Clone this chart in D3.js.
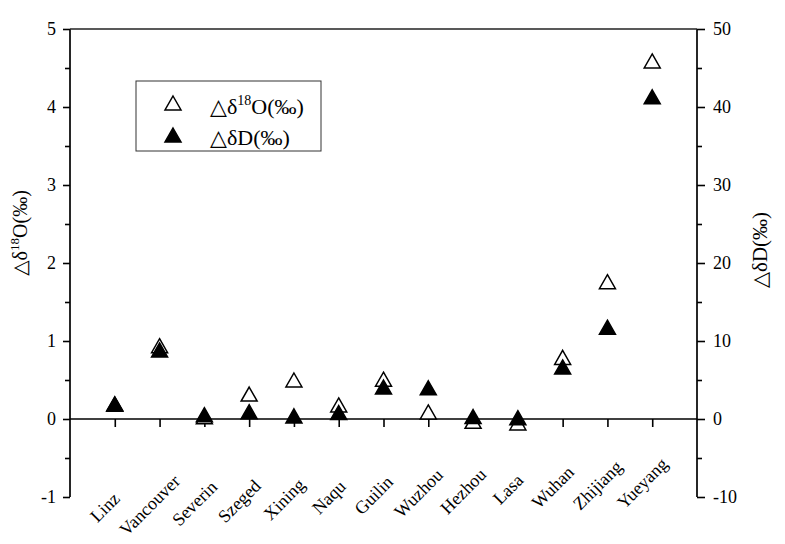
<!DOCTYPE html>
<html>
<head>
<meta charset="utf-8">
<script src="https://cdn.jsdelivr.net/npm/d3@7"></script>
<style>
  html, body { margin: 0; padding: 0; background: #fff; }
  svg { display: block; font-family: "Liberation Serif", "DejaVu Serif", serif; }
</style>
</head>
<body>
<svg id="chart" width="785" height="544"></svg>
<script>
// ---- data ----
const categories = ["Linz", "Vancouver", "Severin", "Szeged", "Xining", "Naqu", "Guilin",
                    "Wuzhou", "Hezhou", "Lasa", "Wuhan", "Zhijiang", "Yueyang"];
const delta18O = [0.19, 0.94, 0.03, 0.32, 0.50, 0.18, 0.51, 0.09, -0.03, -0.05, 0.79, 1.76, 4.59];
const deltaD   = [1.95, 8.85, 0.55, 0.94, 0.40, 0.83, 4.10, 4.00, 0.32, 0.17, 6.67, 11.77, 41.3];
const leftTicks  = [-1, 0, 1, 2, 3, 4, 5];
const rightTicks = [-10, 0, 10, 20, 30, 40, 50];
const legendLabels = ["O", "D"];

// ---- layout ----
const svg = d3.select("#chart");
const x0 = 70, x1 = 697, yTop = 29, yBot = 497;

const x = d3.scaleLinear().domain([0, categories.length + 1]).range([x0, x1]);
const yL = d3.scaleLinear().domain([-1, 5]).range([yBot, yTop]);
const yR = d3.scaleLinear().domain([-10, 50]).range([yBot, yTop]);

const black = "#000";
const fontSize = 18;
const fmt = d => String(d);

// left axis
const gL = svg.append("g").attr("transform", `translate(${x0},0)`)
  .call(d3.axisLeft(yL).tickValues(leftTicks).tickFormat(fmt).tickSize(7).tickPadding(7));
const gLm = svg.append("g").attr("transform", `translate(${x0},0)`)
  .call(d3.axisLeft(yL).tickValues(d3.range(-0.5, 5, 1)).tickFormat("").tickSize(5));

// right axis
const gR = svg.append("g").attr("transform", `translate(${x1},0)`)
  .call(d3.axisRight(yR).tickValues(rightTicks).tickFormat(fmt).tickSize(8).tickPadding(8));
const gRm = svg.append("g").attr("transform", `translate(${x1},0)`)
  .call(d3.axisRight(yR).tickValues(d3.range(-5, 50, 10)).tickFormat("").tickSize(5));

[gL, gR, gLm, gRm].forEach(g => {
  g.selectAll(".domain").remove();
  g.selectAll(".tick line").attr("stroke", black).attr("stroke-width", 1.6);
  g.selectAll(".tick text").attr("fill", black).attr("font-size", fontSize)
    .attr("font-family", "Liberation Serif, serif");
});
// spines
svg.append("line").attr("x1", x0).attr("x2", x0).attr("y1", yTop).attr("y2", yBot)
  .attr("stroke", black).attr("stroke-width", 1.7);
svg.append("line").attr("x1", x1).attr("x2", x1).attr("y1", yTop).attr("y2", yBot)
  .attr("stroke", black).attr("stroke-width", 1.7);
svg.append("line").attr("x1", x0).attr("x2", x1).attr("y1", yTop).attr("y2", yTop)
  .attr("stroke", "#222").attr("stroke-width", 1.4);

// zero line with category ticks
const gX = svg.append("g").attr("transform", `translate(0,${yL(0)})`)
  .call(d3.axisBottom(x).tickValues(d3.range(1, categories.length + 1))
    .tickFormat("").tickSize(8).tickSizeOuter(0));
gX.select(".domain").attr("stroke", black).attr("stroke-width", 1.7).attr("d", `M${x0},0H${x1}`);
gX.selectAll(".tick line").attr("stroke", black).attr("stroke-width", 1.6);

// category labels, rotated 45 degrees (rotation done in matrix form)
const c45 = Math.SQRT1_2;
svg.append("g").selectAll("text").data(categories).join("text")
  .attr("transform", (d, i) =>
    `matrix(${c45},${-c45},${c45},${c45},${x(i + 1) - 10},${507 - 2 * i})`)
  .attr("text-anchor", "middle")
  .attr("dy", "0.35em")
  .attr("font-size", fontSize)
  .attr("fill", black)
  .text(d => d);

// axis titles
const titleL = svg.append("text")
  .attr("transform", `translate(27,233) rotate(-90)`)
  .attr("text-anchor", "middle").attr("font-size", 20).attr("fill", black);
titleL.append("tspan").text("△δ");
titleL.append("tspan").attr("font-size", 13).attr("dy", -8).text("18");
titleL.append("tspan").attr("dy", 8).text("O(‰)");

svg.append("text")
  .attr("transform", `translate(767,250) rotate(-90)`)
  .attr("text-anchor", "middle").attr("font-size", 21).attr("fill", black)
  .text("△δD(‰)");

// triangle markers (bbox-centred)
const triW = 16, triH = 14;
const tri = `M0,${-triH / 2}L${triW / 2},${triH / 2}L${-triW / 2},${triH / 2}Z`;

svg.append("g").selectAll("path").data(delta18O.map((v, i) => ({ v, i })).filter(d => d.v !== null))
  .join("path")
  .attr("d", tri)
  .attr("transform", d => `translate(${x(d.i + 1)},${yL(d.v)})`)
  .attr("fill", "#fff").attr("stroke", black).attr("stroke-width", 1.5);

svg.append("g").selectAll("path").data(deltaD.map((v, i) => ({ v, i })))
  .join("path")
  .attr("d", tri)
  .attr("transform", d => `translate(${x(d.i + 1)},${yR(d.v)})`)
  .attr("fill", black).attr("stroke", black).attr("stroke-width", 1.5);

// legend
const lg = svg.append("g");
lg.append("rect").attr("x", 136).attr("y", 81).attr("width", 185).attr("height", 70)
  .attr("fill", "#fff").attr("stroke", "#333").attr("stroke-width", 1);
lg.append("path").attr("d", tri).attr("transform", "translate(173,103)")
  .attr("fill", "#fff").attr("stroke", black).attr("stroke-width", 1.5);
lg.append("path").attr("d", tri).attr("transform", "translate(173,135)")
  .attr("fill", black).attr("stroke", black).attr("stroke-width", 1.5);
const t1 = lg.append("text").attr("x", 210).attr("y", 114).attr("font-size", 22).attr("fill", black);
t1.append("tspan").text("△δ");
t1.append("tspan").attr("font-size", 14).attr("dy", -9).text("18");
t1.append("tspan").attr("dy", 9).text(legendLabels[0] + "(‰)");
lg.append("text").attr("x", 210).attr("y", 145).attr("font-size", 22).attr("fill", black)
  .text("△δ" + legendLabels[1] + "(‰)");
</script>
</body>
</html>
